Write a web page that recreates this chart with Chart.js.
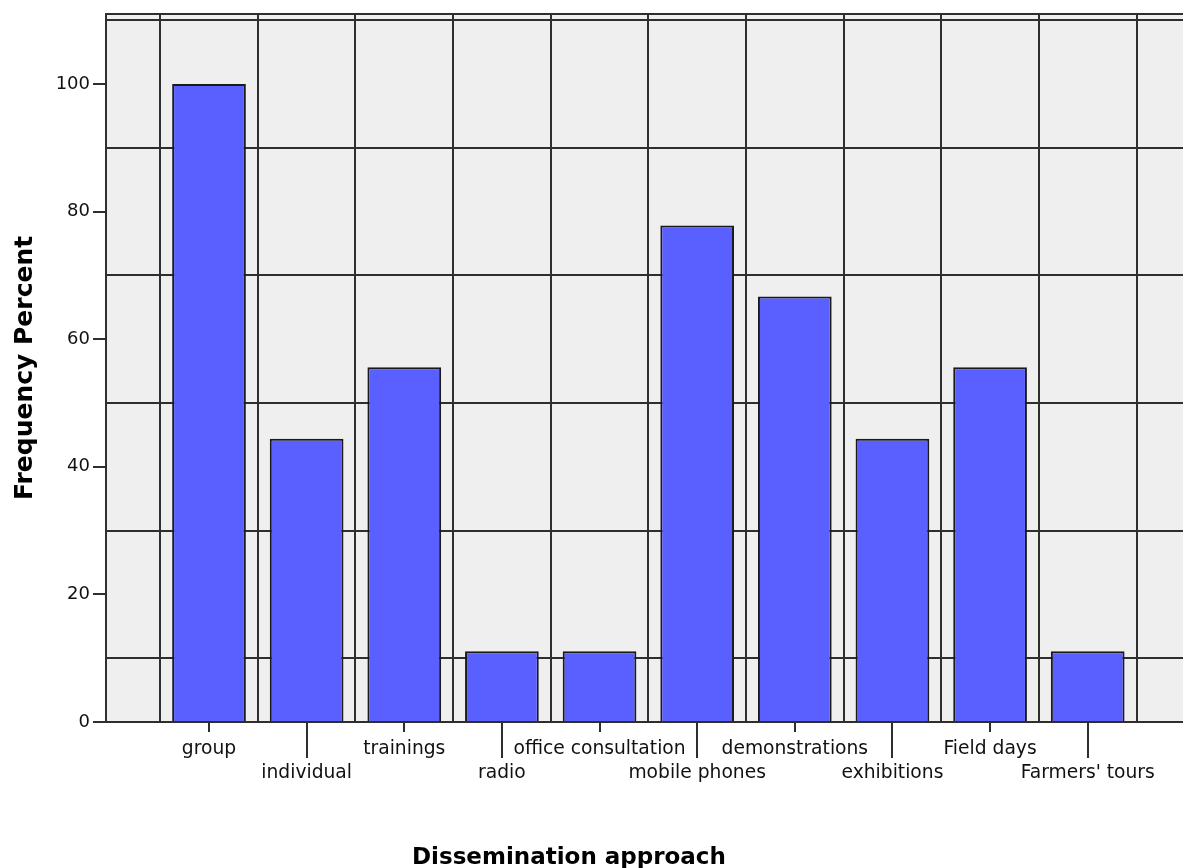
<!DOCTYPE html>
<html>
<head>
<meta charset="utf-8">
<script src="https://cdn.jsdelivr.net/npm/chart.js"></script>
<style>
  html, body { margin: 0; padding: 0; background: #fff; overflow: hidden; }
  #wrap { position: relative; width: 1183px; height: 868px; }
  #xTitle { position: absolute; left: 412px; top: 845px; font: bold 23px "DejaVu Sans"; line-height: 23px; color: #000; white-space: nowrap; }
</style>
</head>
<body>
<div id="wrap">
  <canvas id="barChart"></canvas>
  <div id="xTitle">Dissemination approach</div>
</div>
<script>
// categories and their frequency percent (n = 9 respondents)
const approaches = ['group', 'individual', 'trainings', 'radio', 'office consultation',
  'mobile phones', 'demonstrations', 'exhibitions', 'Field days', "Farmers' tours"];
const percents = [100, 44.4, 55.6, 11.1, 11.1, 77.8, 66.7, 44.4, 55.6, 11.1];

// y axis: labelled ticks, grid lines between them, top of frame
const yLabelTicks = [0, 20, 40, 60, 80, 100];
const yGridTicks = [10, 30, 50, 70, 90, 110];
const yTop = 111;

// x range runs a bit past the first/last category like the SPSS frame
const xMin = -1.055;
const xMax = 9.976;

const lineCol = '#2e2e2e';

// gray plot background
const chartBg = {
  id: 'chartBg',
  beforeDraw(chart) {
    const {ctx, chartArea: a} = chart;
    ctx.save();
    ctx.fillStyle = '#efefef';
    ctx.fillRect(a.left, a.top, a.right - a.left, a.bottom - a.top);
    ctx.restore();
  }
};

// every second category gets the long tick mark
const longTicks = {
  id: 'longTicks',
  afterDraw(chart) {
    const x = chart.scales.x;
    const ctx = chart.ctx;
    ctx.save();
    ctx.strokeStyle = lineCol;
    ctx.lineWidth = 2;
    approaches.forEach((c, i) => {
      if (i % 2) {
        const px = Math.round(x.getPixelForValue(i));
        ctx.beginPath();
        ctx.moveTo(px, x.top);
        ctx.lineTo(px, x.top + 36);
        ctx.stroke();
      }
    });
    ctx.restore();
  }
};

Chart.defaults.font.family = '"DejaVu Sans", sans-serif';

const ctx = document.getElementById('barChart');
new Chart(ctx, {
  type: 'bar',
  data: {
    datasets: [{
      label: 'Frequency Percent',
      data: percents.map((v, i) => ({x: i, y: v})),
      backgroundColor: '#5a5fff',
      borderColor: '#1a1a1a',
      borderWidth: 2,
      // ruler uses the half-step ticks too, so this is ~0.755 of a category
      categoryPercentage: 1,
      barPercentage: 1.51
    }]
  },
  options: {
    responsive: true,
    maintainAspectRatio: false,
    animation: false,
    layout: { padding: { top: 12, right: 0, bottom: 0, left: 0 } },
    plugins: {
      legend: { display: false },
      tooltip: { enabled: false }
    },
    scales: {
      x: {
        type: 'linear',
        min: xMin,
        max: xMax,
        offset: false,
        afterBuildTicks(s) {
          const t = [];
          for (let i = 0; i < approaches.length; i++) {
            t.push({value: i - 0.5});
            t.push({value: i});
          }
          t.push({value: approaches.length - 0.5});
          s.ticks = t;
        },
        afterFit(s) { s.height = 146; },
        grid: {
          offset: false,
          lineWidth: 2,
          tickLength: 10,
          color: c => Number.isInteger(c.tick.value) ? 'transparent' : lineCol,
          tickColor: c => Number.isInteger(c.tick.value) ? lineCol : 'transparent'
        },
        border: { color: lineCol, width: 2 },
        ticks: {
          autoSkip: false,
          maxRotation: 0,
          minRotation: 0,
          padding: 5,
          color: '#111',
          font: { size: 18.7, lineHeight: 1.3 },
          callback: v => {
            if (!Number.isInteger(v)) return '';
            return v % 2 ? ['', approaches[v]] : approaches[v];
          }
        }
      },
      y: {
        min: 0,
        max: yTop,
        afterBuildTicks(s) {
          s.ticks = [...yLabelTicks, ...yGridTicks, yTop].sort((a, b) => a - b).map(v => ({value: v}));
        },
        afterFit(s) { s.width = 106; },
        grid: {
          lineWidth: 2,
          tickLength: 13,
          color: c => yLabelTicks.includes(c.tick.value) ? 'transparent' : lineCol,
          tickColor: c => yLabelTicks.includes(c.tick.value) ? lineCol : 'transparent'
        },
        border: { color: lineCol, width: 2 },
        ticks: {
          padding: 3,
          color: '#111',
          font: { size: 18 },
          callback: v => yLabelTicks.includes(v) ? String(v) : ''
        },
        title: {
          display: true,
          text: 'Frequency Percent',
          color: '#000',
          font: { size: 25, weight: 'bold' },
          padding: { top: 10, bottom: 0 }
        }
      }
    }
  },
  plugins: [chartBg, longTicks]
});
</script>
</body>
</html>
